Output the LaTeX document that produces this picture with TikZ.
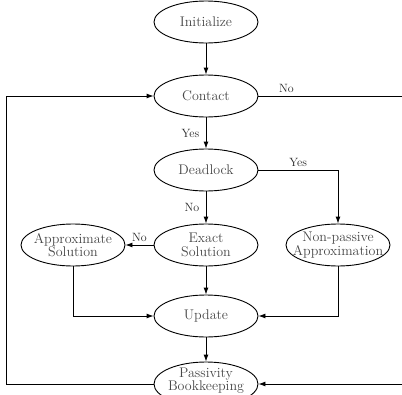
\documentclass[tikz,border=0pt]{standalone}
\usetikzlibrary{shapes.geometric,arrows.meta}
\begin{document}
\begin{tikzpicture}[x=1pt,y=-1pt,
  flow/.style={ellipse,draw,line width=0.9pt,minimum width=104pt,minimum height=42pt,inner sep=0pt},
  txt/.style={text=black!72,font=\fontsize{14}{13.5}\selectfont,align=center,inner sep=0pt},
  lbl/.style={text=black!85,font=\fontsize{12}{13}\selectfont},
  arr/.style={-{Latex[length=7pt,width=5pt]},line width=0.9pt},
  ln/.style={line width=0.9pt}]
\useasboundingbox (0,0) rectangle (402,394);
\clip (0,0) rectangle (402,394);
\node[flow,label={[txt]center:Initialize}] (init) at (206,22) {};
\node[flow,label={[txt]center:Contact}] (contact) at (206,96) {};
\node[flow,label={[txt]center:Deadlock}] (dead) at (206,170) {};
\node[flow,label={[txt]center:{Exact\\Solution}}] (exact) at (206,245) {};
\node[flow,label={[txt]center:{Approximate\\Solution}}] (approx) at (73,245) {};
\node[flow,label={[txt]center:{Non-passive\\Approximation}}] (nonpass) at (338,245) {};
\node[flow,label={[txt]center:Update}] (update) at (206,316) {};
\node[flow,minimum height=44pt,label={[txt,yshift=3.5pt]center:{Passivity\\Bookkeeping}}] (passiv) at (206,384) {};
\coordinate (L) at (6,0);
\coordinate (R) at (414,0);
\draw[arr] (init) -- (contact);
\draw[arr] (contact) -- node[lbl,left=3pt]{Yes} (dead);
\draw[arr] (dead) -- node[lbl,left=3pt]{No} (exact);
\draw[arr] (exact) -- node[lbl,above]{No} (approx);
\draw[arr] (dead.east) -- node[lbl,above]{Yes} (dead.east -| nonpass) -- (nonpass);
\draw[arr] (contact.east) -- node[lbl,above,pos=0.18]{No} (R |- contact.east) -- (R |- passiv.east) -- (passiv.east);
\draw[arr] (passiv.west) -- (L |- passiv.west) |- (contact.west);
\draw[arr] (approx) |- (update);
\draw[arr] (nonpass) |- (update);
\draw[arr] (exact) -- (update);
\draw[arr] (update) -- (passiv);
\end{tikzpicture}
\end{document}
